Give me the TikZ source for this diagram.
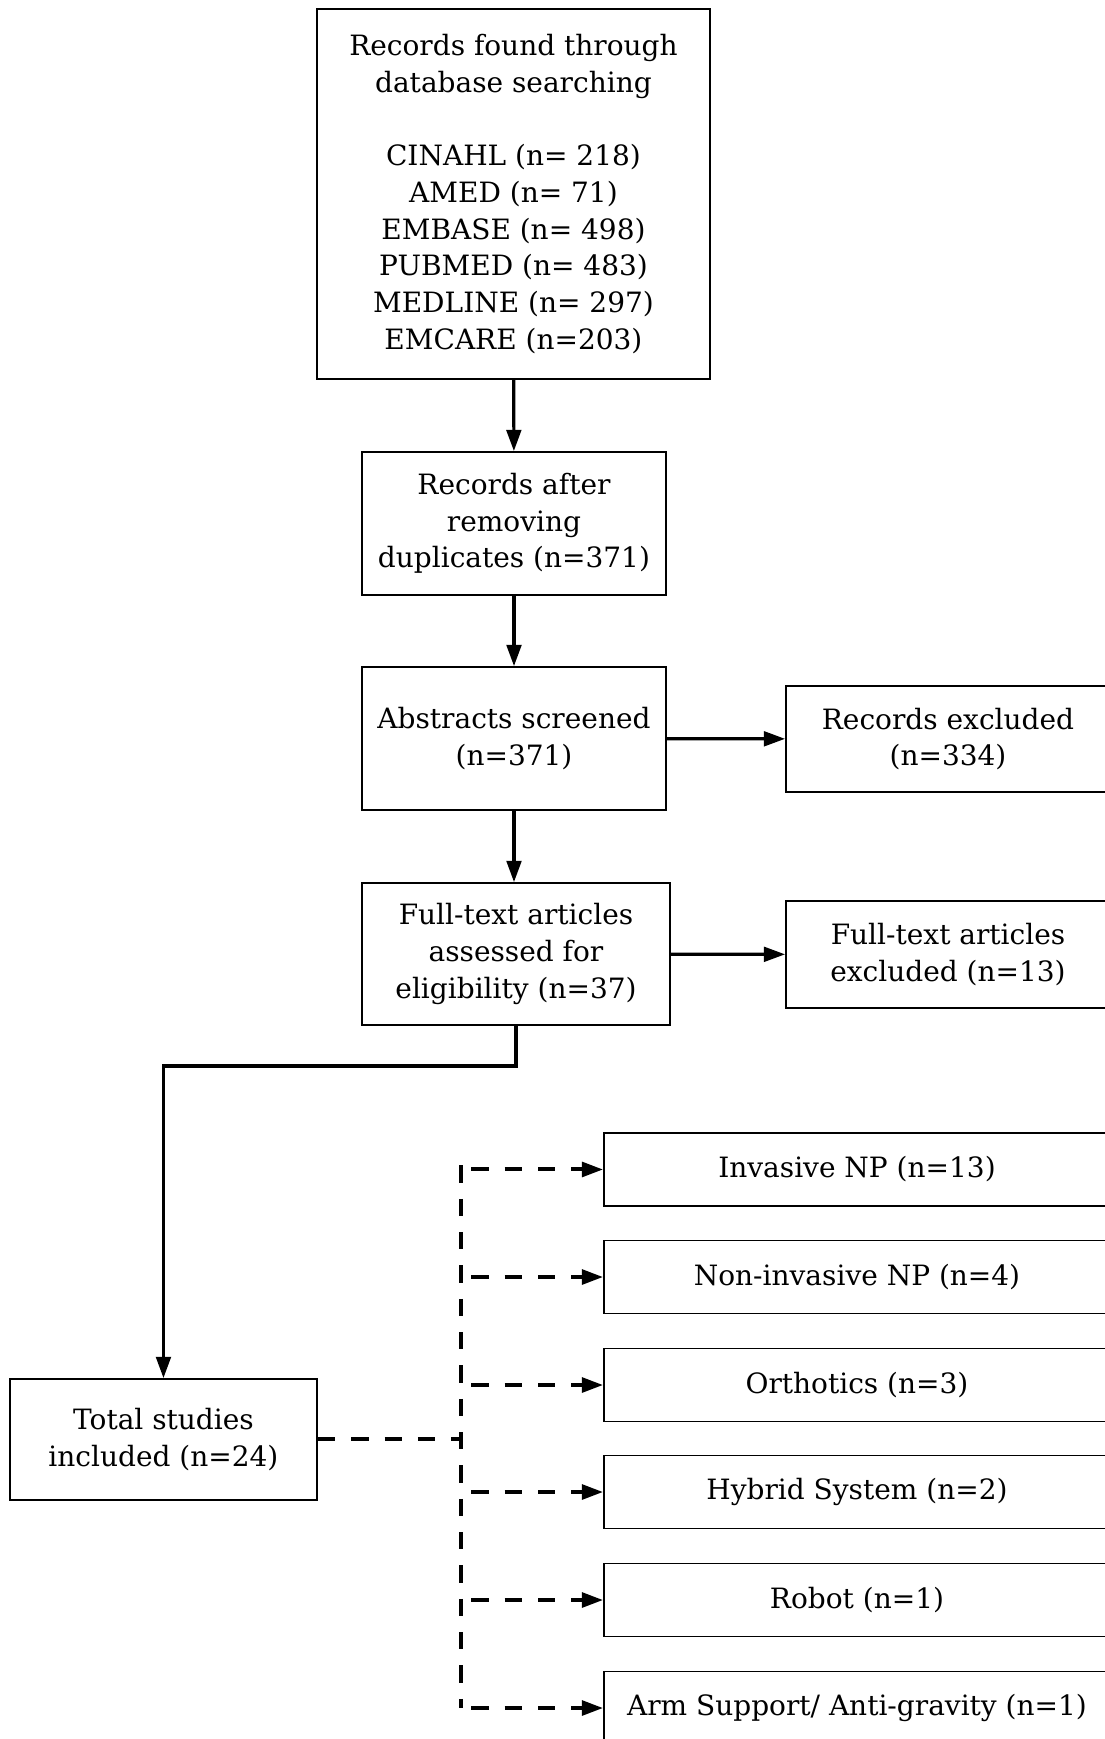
\documentclass[tikz,border=0pt]{standalone}
\usepackage{fontspec}
\setmainfont{DejaVu Serif}
\usetikzlibrary{arrows.meta}
\tikzset{
    box/.style={draw, line width=1.3pt, rectangle, align=center, inner sep=4pt,
        font=\fontsize{21}{27.5}\selectfont},
    arr/.style={line width=2.4pt, -{Triangle[length=16pt, width=11pt]}},
    dsh/.style={line width=3pt, dash pattern=on 13pt off 12pt},
}
\begin{document}
\begin{tikzpicture}[x=1pt, y=-1pt]
            \useasboundingbox (0,0) rectangle (828,1304.25);
            % Main column
            \node[box, minimum width=294.75pt, minimum height=277.5pt] (search) at (385.1,145.5)
                {Records found through\\database searching\\[27.5pt]CINAHL (n= 218)\\AMED (n= 71)\\EMBASE (n= 498)\\PUBMED (n= 483)\\MEDLINE (n= 297)\\EMCARE (n=203)};
            \node[box, minimum width=228pt, minimum height=107.25pt] (dupl) at (385.5,392.6)
                {Records after\\removing\\duplicates (n=371)};
            \node[box, minimum width=228pt, minimum height=107.25pt] (abstr) at (385.5,553.9)
                {Abstracts screened\\(n=371)};
            \node[box, minimum width=231pt, minimum height=106.5pt] (fulltxt) at (387,715.5)
                {Full-text articles\\assessed for\\eligibility (n=37)};
            % Excluded
            \node[box, minimum width=243pt, minimum height=79.5pt] (excl) at (711,554.25)
                {Records excluded\\(n=334)};
            \node[box, minimum width=243pt, minimum height=80.25pt] (fullexcl) at (711,715.9)
                {Full-text articles\\excluded (n=13)};
            % Included
            \node[box, minimum width=230.25pt, minimum height=90.75pt] (total) at (122.6,1079.6)
                {Total studies\\included (n=24)};
            \coordinate (bend) at (122.6,799.5);
            \coordinate (split) at (345.5,1079.6);
            % Arrows
            \draw[arr] (search) -- (dupl);
            \draw[arr] (dupl) -- (abstr);
            \draw[arr] (abstr.south) -- (abstr.south |- fulltxt.north);
            \draw[arr] (abstr) -- (excl);
            \draw[arr] (fulltxt) -- (fullexcl);
            \draw[arr] (fulltxt.south) |- (bend) -- (total.north);
            % Categories
            \foreach \y/\n/\t in {877.1/1/{Invasive NP (n=13)}, 957.75/2/{Non-invasive NP (n=4)},
                    1038.75/3/{Orthotics (n=3)}, 1119/4/{Hybrid System (n=2)},
                    1200/5/{Robot (n=1)}, 1281/6/{Arm Support/ Anti-gravity (n=1)}} {
                \node[box, minimum width=379.5pt, minimum height=54.75pt] (cat\n) at (642.75,\y) {\t};
                \draw[dsh, -{Triangle[length=16pt, width=11pt]}] ([xshift=8pt]split |- cat\n) -- (cat\n.west);
            }
            \draw[dsh] (total.east) -- (split);
            \draw[dsh] ([yshift=3pt]split |- cat1) -- (split |- cat6);
        \end{tikzpicture}
\end{document}
